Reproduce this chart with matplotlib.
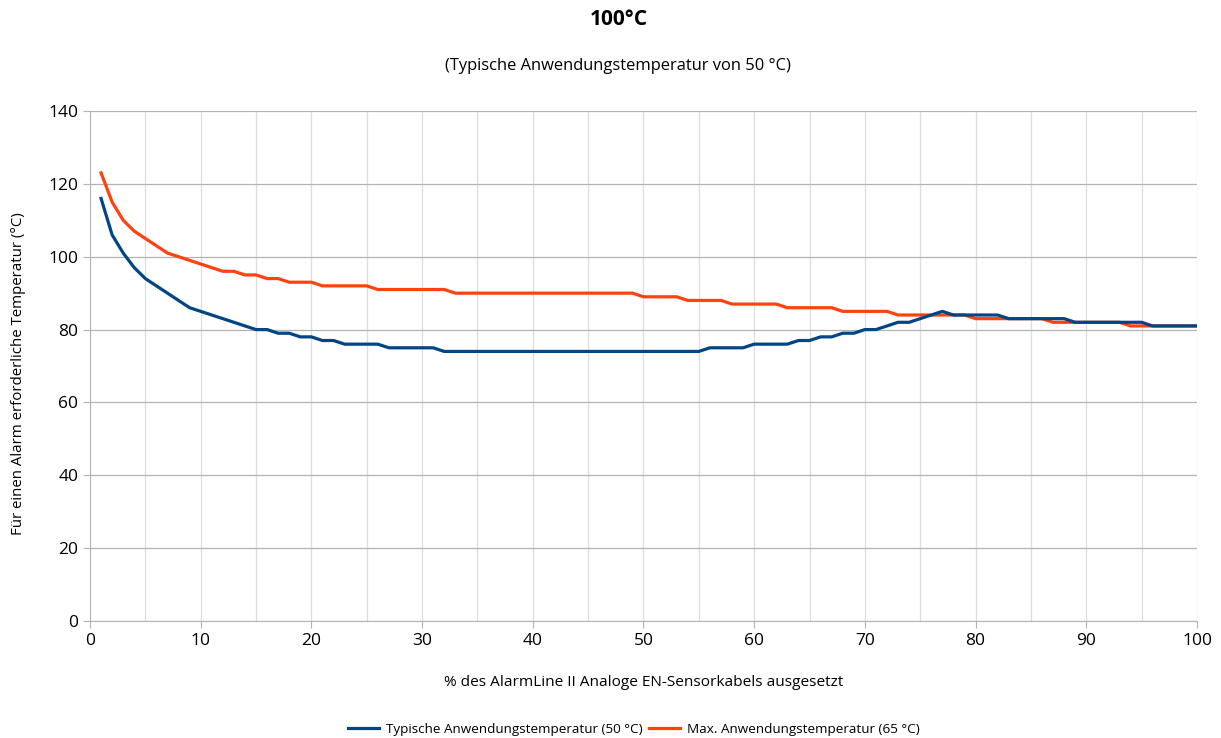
import matplotlib.pyplot as plt
from matplotlib.ticker import MultipleLocator

plt.rcParams['font.family'] = ['Open Sans', 'DejaVu Sans']

# % of cable exposed
exposed = list(range(1, 101))

typical = [116, 106, 101, 97, 94, 92, 90, 88, 86, 85,
           84, 83, 82, 81, 80, 80, 79, 79, 78, 78,
           77, 77, 76, 76, 76, 76, 75, 75, 75, 75,
           75, 74, 74, 74, 74, 74, 74, 74, 74, 74,
           74, 74, 74, 74, 74, 74, 74, 74, 74, 74,
           74, 74, 74, 74, 74, 75, 75, 75, 75, 76,
           76, 76, 76, 77, 77, 78, 78, 79, 79, 80,
           80, 81, 82, 82, 83, 84, 85, 84, 84, 84,
           84, 84, 83, 83, 83, 83, 83, 83, 82, 82,
           82, 82, 82, 82, 82, 81, 81, 81, 81, 81]

maximum = [123, 115, 110, 107, 105, 103, 101, 100, 99, 98,
           97, 96, 96, 95, 95, 94, 94, 93, 93, 93,
           92, 92, 92, 92, 92, 91, 91, 91, 91, 91,
           91, 91, 90, 90, 90, 90, 90, 90, 90, 90,
           90, 90, 90, 90, 90, 90, 90, 90, 90, 89,
           89, 89, 89, 88, 88, 88, 88, 87, 87, 87,
           87, 87, 86, 86, 86, 86, 86, 85, 85, 85,
           85, 85, 84, 84, 84, 84, 84, 84, 84, 83,
           83, 83, 83, 83, 83, 83, 82, 82, 82, 82,
           82, 82, 82, 81, 81, 81, 81, 81, 81, 81]

series_labels = ['Typische Anwendungstemperatur (50 °C)',
                 'Max. Anwendungstemperatur (65 °C)']

fig = plt.figure(figsize=(12.21, 7.38), dpi=100)
ax = fig.add_axes([0.0737, 0.1585, 0.9066, 0.6911])

ax.plot(exposed, typical, color='#004586', lw=2.3, label=series_labels[0], zorder=3)
ax.plot(exposed, maximum, color='#ff420e', lw=2.3, label=series_labels[1], zorder=2)

ax.set_xlim(0, 100)
ax.set_ylim(0, 140)
ax.xaxis.set_major_locator(MultipleLocator(10))
ax.xaxis.set_minor_locator(MultipleLocator(5))
ax.yaxis.set_major_locator(MultipleLocator(20))

ax.grid(which='major', axis='y', color='#b3b3b3', lw=0.9)
ax.grid(which='both', axis='x', color='#dddddd', lw=0.9)
ax.set_axisbelow(True)

for side in ['top', 'right']:
    ax.spines[side].set_visible(False)
for side in ['left', 'bottom']:
    ax.spines[side].set_color('#b3b3b3')
ax.tick_params(which='both', colors='#b3b3b3', length=5, labelcolor='black', labelsize=12.5)
ax.tick_params(which='minor', length=0)

ax.set_xlabel('% des AlarmLine II Analoge EN-Sensorkabels ausgesetzt', fontsize=11.1, labelpad=19)
ax.set_ylabel('Für einen Alarm erforderliche Temperatur (°C)', fontsize=10.8)
ax.yaxis.set_label_coords(-0.058, 0.486)

fig.text(0.507, 0.973, '100°C', ha='center', va='center', fontsize=15, fontweight='bold')
fig.text(0.506, 0.910, '(Typische Anwendungstemperatur von 50 °C)', ha='center', va='center', fontsize=11.9)

fig.legend(loc='center', bbox_to_anchor=(0.519, 0.012), ncol=2, frameon=False,
           fontsize=9.7, handlelength=2.3, columnspacing=0.5, handletextpad=0.5)

fig.savefig('out.png', dpi=100)
